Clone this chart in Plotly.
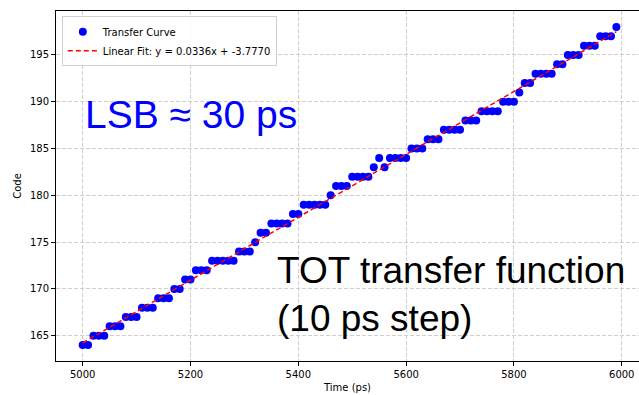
import plotly.graph_objects as go

# Measured transfer curve: time in ps (10 ps steps) and output code
time_ps = list(range(5000, 6000, 10))
code = (
    [164] * 2 + [165] * 3 + [166] * 3 + [167] * 3 + [168] * 3 + [169] * 3
    + [170] * 2 + [171] * 2 + [172] * 3 + [173] * 5 + [174] * 3 + [175] * 1
    + [176] * 2 + [177] * 4 + [178] * 2 + [179] * 5 + [180] * 1 + [181] * 3
    + [182] * 4 + [183] * 1 + [184] * 1 + [183] * 1 + [184] * 4 + [185] * 3
    + [186] * 3 + [187] * 4 + [188] * 3 + [189] * 4 + [190] * 3 + [191] * 1
    + [192] * 2 + [193] * 4 + [194] * 2 + [195] * 3 + [196] * 3 + [197] * 3
    + [198] * 1
)

# Linear fit coefficients
slope = 0.0336
intercept = -3.7770
fit = [slope * t + intercept for t in time_ps]

x_ticks = [5000, 5200, 5400, 5600, 5800, 6000]
y_ticks = [165, 170, 175, 180, 185, 190, 195]

FONT = "DejaVu Sans"

fig = go.Figure()
fig.add_trace(go.Scatter(
    x=time_ps, y=code, mode="markers", name="Transfer Curve",
    marker=dict(color="#0000ff", size=8, line=dict(width=0)),
))
fig.add_trace(go.Scatter(
    x=time_ps, y=fit, mode="lines",
    name=f"Linear Fit: y = {slope:.4f}x + {intercept:.4f}",
    line=dict(color="#ff0000", width=1.5, dash="5px,3px"),
))

fig.update_layout(
    width=639, height=395,
    margin=dict(l=56, r=0, t=11, b=34),
    paper_bgcolor="white", plot_bgcolor="white",
    font=dict(family=FONT, size=10, color="black"),
    showlegend=True,
    legend=dict(
        x=0.01, y=0.985, xanchor="left", yanchor="top",
        bgcolor="rgba(255,255,255,0.85)", bordercolor="#d0d0d0", borderwidth=1,
        font=dict(family=FONT, size=10), tracegroupgap=0,
    ),
    annotations=[
        dict(text="LSB ≈ 30 ps", xref="paper", yref="paper", x=0.046, y=0.703,
             xanchor="left", yanchor="middle", showarrow=False,
             font=dict(family="Liberation Sans", size=39, color="#0000ff")),
        dict(text="TOT transfer function<br>(10 ps step)", xref="paper", yref="paper",
             x=0.376, y=0.19, xanchor="left", yanchor="middle", align="left",
             showarrow=False,
             font=dict(family="Liberation Sans", size=37, color="black")),
    ],
)

fig.update_xaxes(
    range=[4950.5, 6032], tickvals=x_ticks, ticks="outside", ticklen=4,
    tickcolor="black", showline=True, linecolor="black", linewidth=1, mirror=True,
    showgrid=True, gridcolor="#cfcfcf", griddash="4px,2px", gridwidth=1,
    zeroline=False, title=dict(text="Time (ps)", standoff=4, font=dict(size=10)),
)
fig.update_yaxes(
    range=[162.3, 199.7], tickvals=y_ticks, ticks="outside", ticklen=4,
    tickcolor="black", showline=True, linecolor="black", linewidth=1,
    showgrid=True, gridcolor="#cfcfcf", griddash="4px,2px", gridwidth=1,
    zeroline=False, title=dict(text="Code", standoff=6, font=dict(size=10)),
)

fig.write_html("out.html")
